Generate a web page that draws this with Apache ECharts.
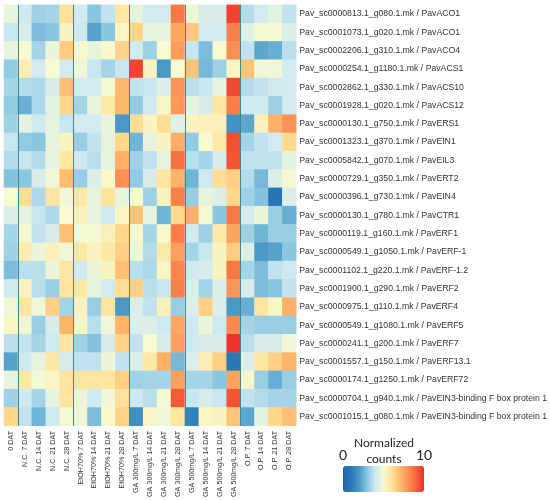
<!DOCTYPE html>
<html>
<head>
<meta charset="utf-8">
<script src="https://cdn.jsdelivr.net/npm/echarts@6/dist/echarts.min.js"></script>
<style>
  html, body { margin: 0; padding: 0; background: #fff; }
  #heat { width: 550px; height: 500px; }
</style>
</head>
<body>
<div id="heat"></div>
<script>
var conditions = ['0 DAT',
	'N.C. 7 DAT', 'N.C. 14 DAT', 'N.C. 21 DAT', 'N.C. 28 DAT',
	'EtOH70% 7 DAT', 'EtOH70% 14 DAT', 'EtOH70% 21 DAT', 'EtOH70% 28 DAT',
	'GA 300mg/L 7 DAT', 'GA 300mg/L 14 DAT', 'GA 300mg/L 21 DAT', 'GA 300mg/L 28 DAT',
	'GA 500mg/L 7 DAT', 'GA 500mg/L 14 DAT', 'GA 500mg/L 21 DAT', 'GA 500mg/L 28 DAT',
	'O.P. 7 DAT', 'O.P. 14 DAT', 'O.P. 21 DAT', 'O.P. 28 DAT'];

var genes = [
	'Pav_sc0000813.1_g080.1.mk / PavACO1',
	'Pav_sc0001073.1_g020.1.mk / PavACO1',
	'Pav_sc0002206.1_g310.1.mk / PavACO4',
	'Pav_sc0000254.1_g1180.1.mk / PavACS1',
	'Pav_sc0002862.1_g330.1.mk / PavACS10',
	'Pav_sc0001928.1_g020.1.mk / PavACS12',
	'Pav_sc0000130.1_g750.1.mk / PavERS1',
	'Pav_sc0001323.1_g370.1.mk / PavEIN1',
	'Pav_sc0005842.1_g070.1.mk / PavEIL3',
	'Pav_sc0000729.1_g350.1.mk / PavERT2',
	'Pav_sc0000396.1_g730.1.mk / PavEIN4',
	'Pav_sc0000130.1_g780.1.mk / PavCTR1',
	'Pav_sc0000119.1_g160.1.mk / PavERF1',
	'Pav_sc0000549.1_g1050.1.mk / PavERF-1',
	'Pav_sc0001102.1_g220.1.mk / PavERF-1.2',
	'Pav_sc0001900.1_g290.1.mk / PavERF2',
	'Pav_sc0000975.1_g110.1.mk / PavERF4',
	'Pav_sc0000549.1_g1080.1.mk / PavERF5',
	'Pav_sc0000241.1_g200.1.mk / PavERF7',
	'Pav_sc0001557.1_g150.1.mk / PavERF13.1',
	'Pav_sc0000174.1_g1250.1.mk / PavERF72',
	'Pav_sc0000704.1_g940.1.mk / PavEIN3-binding F box protein 1',
	'Pav_sc0001015.1_g080.1.mk / PavEIN3-binding F box protein 1'];

// normalized counts, one row per gene, one value per condition
var counts = [
	[4.6,4.0,3.3,3.4,6.0,4.1,3.0,3.8,5.8,4.6,4.1,4.1,8.6,4.8,4.2,4.2,9.6,3.6,4.1,4.5,3.8],
	[3.9,4.2,2.8,3.0,5.3,4.0,2.2,3.0,5.2,6.4,4.6,4.6,7.5,6.7,4.1,4.1,8.4,4.4,4.9,4.9,4.3],
	[4.6,5.0,3.4,4.7,6.6,5.1,4.6,5.1,6.4,4.1,3.3,5.0,7.8,3.9,2.8,5.0,8.1,3.8,2.3,2.5,3.7],
	[3.1,5.5,4.1,5.0,4.1,4.8,3.9,3.4,3.9,9.6,5.3,2.0,5.0,6.8,2.7,3.3,5.2,6.8,4.8,4.8,4.1],
	[3.4,3.6,3.5,4.2,6.9,4.1,4.1,4.9,7.1,3.8,3.9,4.3,8.0,3.7,3.9,4.6,9.5,3.6,3.8,4.0,4.1],
	[3.1,2.5,3.5,4.5,6.3,3.4,4.6,5.7,7.1,3.1,4.0,5.2,7.9,4.6,4.2,5.8,8.5,4.0,4.0,3.3,4.1],
	[3.3,4.5,4.0,4.6,3.9,4.1,4.1,4.6,2.0,6.1,5.3,6.1,4.4,5.3,5.4,5.4,1.8,2.3,5.4,7.3,8.0],
	[3.9,3.1,3.0,4.6,5.3,3.2,3.8,4.6,6.3,2.6,4.6,5.3,7.4,3.1,5.0,5.7,9.4,3.4,3.8,4.1,6.2],
	[3.6,3.9,3.6,4.6,5.8,4.0,3.7,4.6,7.3,3.3,3.8,4.6,8.7,3.7,3.4,4.2,9.3,3.8,3.8,3.8,4.5],
	[2.9,3.0,4.2,4.8,7.0,3.2,4.3,5.1,8.1,3.1,4.2,5.9,7.2,2.6,4.0,6.1,6.5,3.6,2.7,4.3,4.9],
	[5.0,6.1,3.5,5.9,4.8,5.8,4.6,6.0,4.6,5.0,3.3,5.3,8.4,3.2,4.6,4.3,6.3,3.3,2.9,0.8,4.3],
	[4.3,4.5,3.9,3.5,5.0,5.4,4.6,4.0,5.2,6.8,4.6,2.6,6.2,7.3,4.9,3.0,8.6,4.2,4.7,3.2,2.5],
	[3.4,4.9,3.8,4.2,6.9,4.9,4.9,5.4,6.3,5.1,3.4,5.1,8.5,4.1,3.3,5.7,7.6,3.3,2.6,3.2,3.2],
	[3.3,5.6,4.7,5.4,4.8,5.8,5.3,5.8,6.5,4.8,3.6,5.7,7.7,3.4,3.9,5.3,6.6,4.3,2.0,2.2,3.0],
	[2.8,3.7,3.7,4.7,5.9,4.0,4.7,5.3,6.9,3.7,3.5,5.2,8.3,4.0,4.2,5.3,8.6,3.4,2.8,3.8,4.0],
	[4.0,5.3,3.7,3.2,5.9,5.8,4.6,4.1,6.1,6.5,3.7,3.9,8.4,4.3,3.4,4.3,7.9,4.2,2.8,3.0,3.8],
	[4.8,5.9,4.8,6.5,3.4,5.3,3.2,5.9,2.0,4.3,3.8,5.4,3.2,4.3,6.5,4.3,2.0,2.5,5.9,5.2,7.3],
	[5.2,4.8,3.2,4.2,7.2,5.2,3.7,4.8,7.2,4.3,4.3,4.0,7.5,4.0,4.7,4.0,8.2,3.4,3.2,3.2,3.2],
	[3.7,3.8,3.4,4.0,5.9,3.3,2.9,4.2,6.4,3.8,5.0,4.2,7.7,4.0,4.2,4.2,9.9,3.7,4.2,4.2,4.8],
	[2.2,4.0,4.6,5.8,4.2,3.8,3.8,4.7,3.8,4.3,5.8,7.3,2.7,4.3,5.5,6.5,1.0,4.3,5.8,6.5,7.2],
	[4.6,5.8,4.9,5.2,5.9,5.9,5.9,5.9,6.5,3.3,3.4,3.4,7.7,3.4,3.4,3.0,7.6,5.2,3.2,2.5,3.2],
	[3.3,4.0,3.4,4.6,5.9,4.7,4.0,4.8,6.0,4.0,3.7,4.9,9.2,3.9,4.2,3.9,9.3,3.8,3.6,3.4,3.4],
	[6.3,3.8,2.6,4.0,4.9,4.8,2.8,5.1,6.4,1.7,5.2,4.8,5.9,1.3,5.2,5.3,6.8,2.3,4.5,6.3,6.9]];

// treatment group boundaries (column index where a new group starts)
var groupBreaks = [1, 5, 9, 13, 17];

var colorRamp = ['#2066ac','#2b78b6','#4a98c6','#8ac6e0','#cfe9f1','#f8fad0',
	'#fee29a','#fdbc70','#fa9456','#f66538','#ee2e28'];

var cells = [];
for (var r = 0; r < genes.length; r++) {
	for (var c = 0; c < conditions.length; c++) {
		cells.push([c, r, counts[r][c]]);
	}
}

var heatChart = echarts.init(document.getElementById('heat'));

var option = {
	animation: false,
	grid: { left: 4, top: 4.8, width: 294, height: 421.6 },
	xAxis: [
		{
			type: 'category',
			data: conditions,
			axisLine: { show: false },
			axisTick: { show: false },
			splitLine: { show: false },
			axisLabel: {
				rotate: 90,
				interval: 0,
				margin: 5,
				fontSize: 7.2,
				fontFamily: 'Liberation Sans',
				color: '#333'
			}
		},
		{
			type: 'value',
			min: 0,
			max: conditions.length,
			show: false
		}
	],
	yAxis: {
		type: 'category',
		data: genes,
		inverse: true,
		position: 'right',
		axisLine: { show: false },
		axisTick: { show: false },
		axisLabel: {
			interval: 0,
			margin: 3,
			fontSize: 8.7,
			fontFamily: 'Liberation Sans',
			color: '#333'
		}
	},
	visualMap: {
		type: 'continuous',
		min: 0,
		max: 10,
		calculable: false,
		orient: 'horizontal',
		left: 343,
		top: 466,
		padding: 0,
		itemWidth: 26,
		itemHeight: 81,
		seriesIndex: 0,
		inRange: { color: colorRamp }
	},
	series: [
		{
			type: 'heatmap',
			data: cells,
			itemStyle: { borderWidth: 0 }
		},
		{
			type: 'line',
			xAxisIndex: 1,
			data: [],
			markLine: {
				symbol: 'none',
				silent: true,
				label: { show: false },
				lineStyle: { color: '#3f8a8c', width: 1, type: 'solid' },
				data: groupBreaks.map(function (b) { return { xAxis: b }; })
			}
		}
	],
	graphic: [
		{ type: 'text', left: 'center', style: {} , invisible: true },
		{ type: 'text', x: 384, y: 443, style: { text: 'Normalized', font: '12px Lato', fill: '#222', align: 'center', verticalAlign: 'middle' } },
		{ type: 'text', x: 384, y: 459, style: { text: 'counts', font: '12px Lato', fill: '#222', align: 'center', verticalAlign: 'middle' } },
		{ type: 'text', x: 343, y: 455, style: { text: '0', font: '14px Lato', fill: '#222', align: 'center', verticalAlign: 'middle' } },
		{ type: 'text', x: 424, y: 455, style: { text: '10', font: '14px Lato', fill: '#222', align: 'center', verticalAlign: 'middle' } }
	]
};

heatChart.setOption(option);
</script>
</body>
</html>
